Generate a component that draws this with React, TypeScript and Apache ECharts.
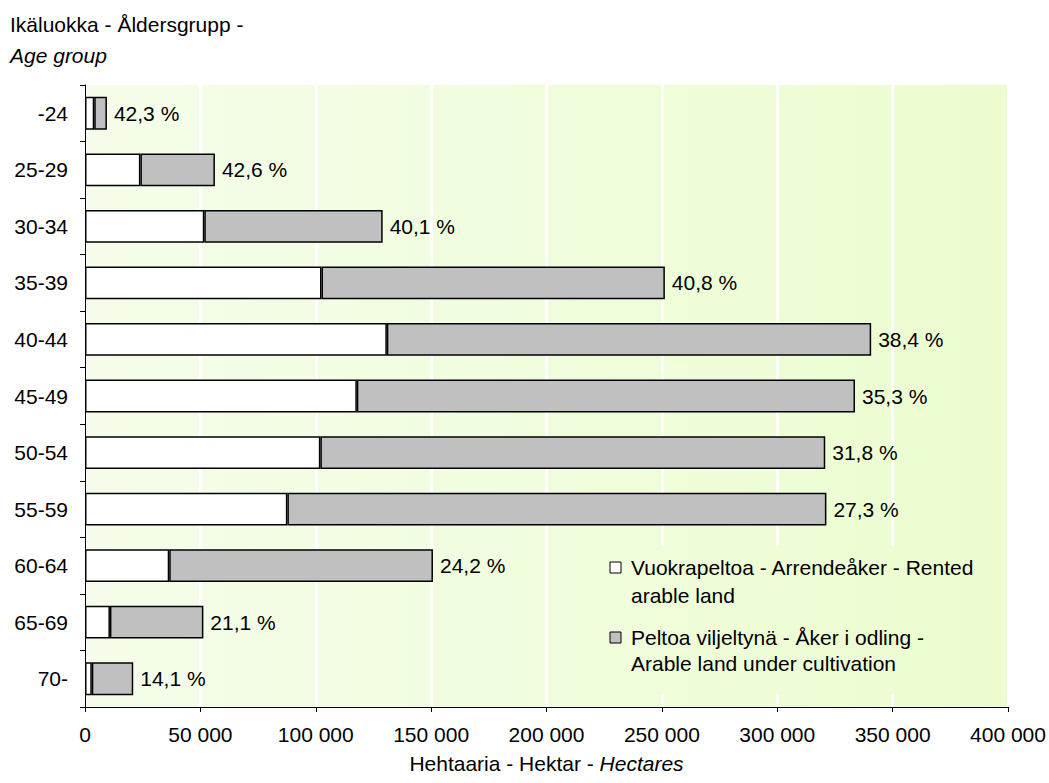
import React, { useEffect, useRef } from "react";
import * as echarts from "echarts";

const categories = ["-24", "25-29", "30-34", "35-39", "40-44", "45-49", "50-54", "55-59", "60-64", "65-69", "70-"];
// Rented arable land (hectares)
const rented = [4000, 24000, 51700, 102500, 130800, 117800, 102000, 87700, 36500, 10800, 2950];
// Arable land under cultivation, total (hectares)
const cultivated = [9500, 56300, 129000, 251300, 340700, 333700, 320800, 321300, 150800, 51300, 20900];
// Share of rented land
const shareLabels = ["42,3 %", "42,6 %", "40,1 %", "40,8 %", "38,4 %", "35,3 %", "31,8 %", "27,3 %", "24,2 %", "21,1 %", "14,1 %"];
const xTicks = [0, 50000, 100000, 150000, 200000, 250000, 300000, 350000, 400000];

const FONT = "'Liberation Sans', Arial, sans-serif";
const FS = 21;
const BG_LEFT = "#f5fdea";
const BG_RIGHT = "#ebfdcf";

export default function App() {
  const ref = useRef<HTMLDivElement>(null);
  useEffect(() => {
    if (!ref.current) return;
    const chart = echarts.init(ref.current, null, { renderer: "svg" });
    const rest = cultivated.map((v, i) => v - rented[i]);
    const fmt = (v: number) => String(v).replace(/\B(?=(\d{3})+(?!\d))/g, " ");
    chart.setOption({
      animation: false,
      backgroundColor: "#ffffff",
      textStyle: { fontFamily: FONT, color: "#000" },
      title: {
        left: 10,
        top: 9,
        padding: 0,
        text: "{n|Ikäluokka - Åldersgrupp -}\n{i|Age group}",
        textStyle: {
          fontWeight: "normal",
          rich: {
            n: { fontFamily: FONT, fontSize: FS, color: "#000", lineHeight: 31, fontWeight: "normal" },
            i: { fontFamily: FONT, fontSize: FS, color: "#000", fontStyle: "italic", lineHeight: 31, fontWeight: "normal" },
          },
        },
      },
      grid: {
        left: 85,
        right: 41,
        top: 85,
        bottom: 76,
        show: true,
        borderWidth: 0,
        backgroundColor: new echarts.graphic.LinearGradient(0, 0, 1, 0, [
          { offset: 0, color: BG_LEFT },
          { offset: 1, color: BG_RIGHT },
        ]),
      },
      xAxis: {
        type: "value",
        min: 0,
        max: 400000,
        interval: 50000,
        name: "{n|Hehtaaria - Hektar - }{i|Hectares}",
        nameLocation: "middle",
        nameGap: 46,
        nameTextStyle: {
          rich: {
            n: { fontFamily: FONT, fontSize: FS, color: "#000" },
            i: { fontFamily: FONT, fontSize: FS, color: "#000", fontStyle: "italic" },
          },
        },
        axisLine: { show: true, lineStyle: { color: "#000", width: 1 } },
        axisTick: { show: true, length: 5, lineStyle: { color: "#000" } },
        axisLabel: {
          margin: 17,
          fontFamily: FONT,
          fontSize: FS,
          color: "#000",
          formatter: (v: number) => (xTicks.includes(v) ? fmt(v) : ""),
        },
        splitLine: { show: true, lineStyle: { color: "#ffffff", width: 3 } },
      },
      yAxis: {
        type: "category",
        data: categories,
        inverse: true,
        axisLine: { show: true, lineStyle: { color: "#000", width: 1 } },
        axisTick: { show: true, length: 5, lineStyle: { color: "#000" } },
        axisLabel: { margin: 17, fontFamily: FONT, fontSize: FS, color: "#000" },
        splitLine: { show: false },
      },
      series: [
        {
          name: "Vuokrapeltoa - Arrendeåker - Rented arable land",
          type: "bar",
          stack: "t",
          data: rented,
          barWidth: "58%",
          itemStyle: { color: "#ffffff", borderColor: "#000", borderWidth: 1.5 },
        },
        {
          name: "Peltoa viljeltynä - Åker i odling - Arable land under cultivation",
          type: "bar",
          stack: "t",
          data: rest,
          barWidth: "58%",
          itemStyle: { color: "#c0c0c0", borderColor: "#000", borderWidth: 1.5 },
          label: {
            show: true,
            position: "right",
            distance: 7,
            fontFamily: FONT,
            fontSize: FS,
            color: "#000",
            formatter: (p: any) => shareLabels[p.dataIndex],
          },
        },
      ],
      graphic: [
        {
          type: "rect",
          z: 100,
          shape: { x: 598, y: 546, width: 408, height: 148 },
          style: {
            fill: new echarts.graphic.LinearGradient(
              85, 0, 1008, 0,
              [
                { offset: 0, color: BG_LEFT },
                { offset: 1, color: BG_RIGHT },
              ],
              true
            ),
          },
        },
        {
          type: "rect",
          z: 101,
          shape: { x: 610, y: 562, width: 11, height: 11 },
          style: { fill: "#ffffff", stroke: "#000", lineWidth: 1 },
        },
        {
          type: "text",
          z: 101,
          x: 631,
          y: 553,
          style: {
            text: "Vuokrapeltoa - Arrendeåker - Rented\narable land",
            font: `${FS}px ${FONT}`,
            fill: "#000",
            lineHeight: 28,
          },
        },
        {
          type: "rect",
          z: 101,
          shape: { x: 610, y: 632, width: 11, height: 11 },
          style: { fill: "#c0c0c0", stroke: "#000", lineWidth: 1 },
        },
        {
          type: "text",
          z: 101,
          x: 631,
          y: 624,
          style: {
            text: "Peltoa viljeltynä - Åker i odling -\nArable land under cultivation",
            font: `${FS}px ${FONT}`,
            fill: "#000",
            lineHeight: 26,
          },
        },
      ],
    });
    return () => chart.dispose();
  }, []);
  return <div ref={ref} style={{ width: 1049, height: 783, position: "absolute", left: 0, top: 0 }} />;
}
